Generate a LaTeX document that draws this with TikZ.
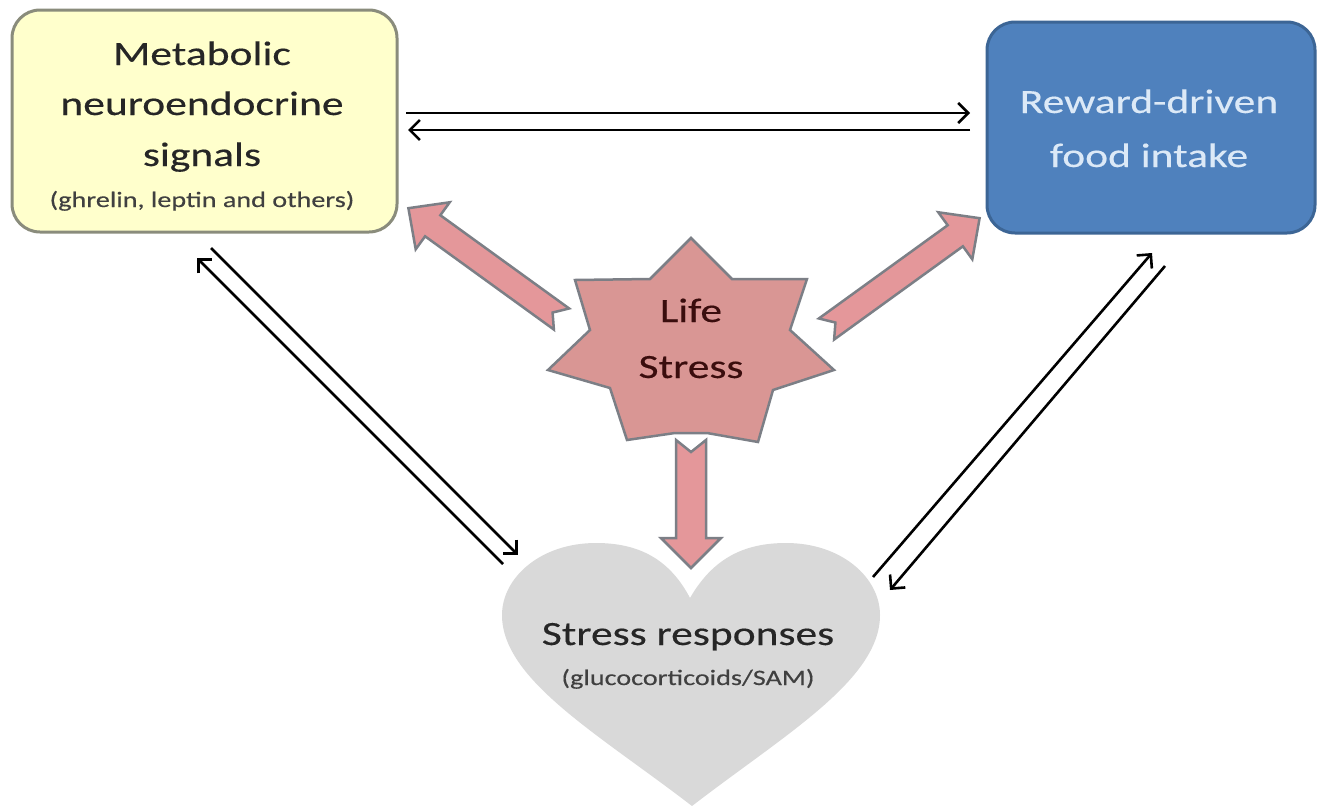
\documentclass[tikz,border=0pt]{standalone}
\usepackage{fontspec}
\setmainfont{Carlito}
\newfontfamily\carl[FakeStretch=1.28,FakeBold=0.35]{Carlito}
\usetikzlibrary{arrows.meta}
\definecolor{boxyellow}{HTML}{FFFFCC}
\definecolor{yellowedge}{HTML}{8A8C7C}
\definecolor{rewardblue}{HTML}{4F81BD}
\definecolor{rewardedge}{HTML}{3C6595}
\definecolor{txtlight}{HTML}{DCE9F7}
\definecolor{txtdark}{HTML}{262626}
\definecolor{txtsmall}{HTML}{404040}
\definecolor{starpink}{HTML}{D99694}
\definecolor{arrowpink}{HTML}{E4979A}
\definecolor{edgegray}{HTML}{7C7F86}
\definecolor{heartgray}{HTML}{D9D9D9}
\definecolor{startxt}{HTML}{3A0D0D}
\begin{document}
\begin{tikzpicture}[x=1pt,y=-1pt,
  bigtxt/.style={font=\carl\fontsize{34}{40}\selectfont, anchor=base, inner sep=0pt, text=txtdark},
  smalltxt/.style={font=\carl\fontsize{22}{26}\selectfont, anchor=base, inner sep=0pt, text=txtsmall},
  thinarrow/.style={line width=2.6pt, -{Straight Barb[length=10pt,width=20pt]}},
  fatarrow/.style={fill=arrowpink, draw=edgegray, line width=2.5pt, line join=miter},
  metabox/.style={draw=yellowedge, fill=boxyellow, line width=3pt, rounded corners=28pt,
    minimum width=385pt, minimum height=222pt, inner sep=0pt},
  rewardbox/.style={draw=rewardedge, fill=rewardblue, line width=3pt, rounded corners=28pt,
    minimum width=328pt, minimum height=211pt, inner sep=0pt}]
\useasboundingbox[fill=white] (0,0) rectangle (1323,806);

% boxes
\node[metabox] (meta) at (204.5,121) {};
\node[rewardbox] (reward) at (1151,127.5) {};
\node[bigtxt] (meta1) at (202,65) {Metabolic};
\node[bigtxt] (meta2) at (202,115) {neuroendocrine};
\node[bigtxt] (meta3) at (202,166) {signals};
\node[smalltxt] (meta4) at (202,207) {(ghrelin, leptin and others)};
\node[bigtxt, text=txtlight] (rew1) at (1149,113) {Reward-driven};
\node[bigtxt, text=txtlight] (rew2) at (1149,167) {food intake};

% heart
\fill[heartgray] (690,598)
  .. controls (670,560) and (640,543) .. (596,543)
  .. controls (540,543) and (502,578) .. (502,615)
  .. controls (502,680) and (600,735) .. (692,806)
  .. controls (784,735) and (880,680) .. (880,615)
  .. controls (880,578) and (842,543) .. (786,543)
  .. controls (742,543) and (712,560) .. (690,598) -- cycle;
\node[bigtxt] (heart1) at (688,645) {Stress responses};
\node[smalltxt] (heart2) at (688,685) {(glucocorticoids/SAM)};

% star
\draw[fill=starpink, draw=edgegray, line width=2.5pt, line join=miter]
  (691,238) -- (732,279) -- (807,279) -- (790,330) -- (834,370) -- (773,390)
  -- (758,442) -- (707,433) -- (675,433) -- (627,440) -- (610,388) -- (548,370)
  -- (590,330) -- (575,280) -- (650,279) -- cycle;
\node[bigtxt, text=startxt] (life1) at (691,322) {Life};
\node[bigtxt, text=startxt] (life2) at (691,378) {Stress};

% fat arrows from the star
\begin{scope}[shift={(561.5,319)}, rotate=144.1]
  \draw[fatarrow] (0,13) -- (159,13) -- (159,29) -- (189,0) -- (159,-29) -- (159,-13) -- (0,-13) -- (11,0) -- cycle;
\end{scope}
\begin{scope}[shift={(826.5,329)}, rotate=35.9]
  \draw[fatarrow] (0,13) -- (159,13) -- (159,29) -- (189,0) -- (159,-29) -- (159,-13) -- (0,-13) -- (11,0) -- cycle;
\end{scope}
\begin{scope}[shift={(691,440)}, rotate=-90]
  \draw[fatarrow] (0,15) -- (98,15) -- (98,30) -- (128,0) -- (98,-30) -- (98,-15) -- (0,-15) -- (12,0) -- cycle;
\end{scope}

% thin connectors
\coordinate (mr1) at (406,113);
\coordinate (rl1) at (970,113);
\coordinate (rl2) at (970,130);
\coordinate (mr2) at (408,130);
\coordinate (mb1) at (211,248);
\coordinate (hl1) at (518,555);
\coordinate (hl2) at (503,564);
\coordinate (mb2) at (197,258);
\coordinate (hr1) at (873,577);
\coordinate (rb1) at (1152,253);
\coordinate (rb2) at (1165,266);
\coordinate (hr2) at (890,590);
\draw[thinarrow] (mr1) -- (rl1);
\draw[thinarrow] (rl2) -- (mr2);
\draw[thinarrow] (mb1) -- (hl1);
\draw[thinarrow] (hl2) -- (mb2);
\draw[thinarrow] (hr1) -- (rb1);
\draw[thinarrow] (rb2) -- (hr2);
\end{tikzpicture}
\end{document}
